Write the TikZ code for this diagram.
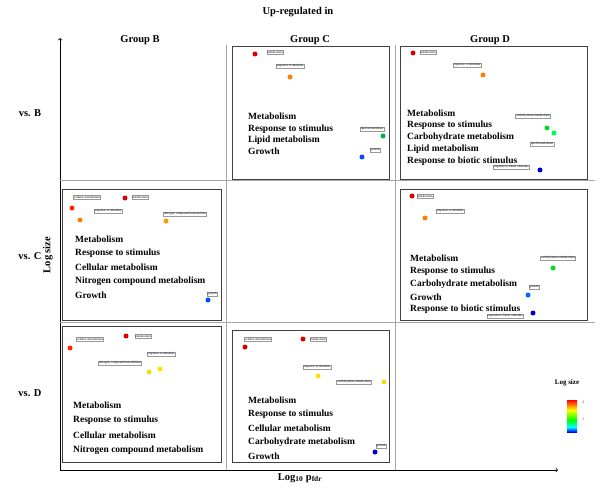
\documentclass[tikz,border=0pt]{standalone}
\usepackage{fontspec}
\setmainfont{Liberation Serif}
\begin{document}
\begin{tikzpicture}[x=1pt,y=-1pt,
  panel/.style={draw=black!75,line width=1pt},
  head/.style={font=\bfseries\fontsize{10.5}{12}\selectfont},
  lst/.style={font=\bfseries\fontsize{9.5}{11}\selectfont,anchor=west,inner sep=0pt},
  tag/.style={draw=black!40,fill=white,font=\fontsize{3.3}{3.8}\selectfont,inner sep=0.6pt},
  dot/.style={circle,inner sep=0pt,minimum size=5pt},
  sep/.style={draw=black!35,line width=0.6pt}]
\useasboundingbox (0,0) rectangle (600,492);
% title and headers
\node[head] (title) at (298,12) {Up-regulated in};
\node[head] (gb) at (140,40) {Group B};
\node[head] (gc) at (310,40) {Group C};
\node[head] (gd) at (490,40) {Group D};
\node[head] (rb) at (30,113) {vs. B};
\node[head] (rc) at (30,256) {vs. C};
\node[head] (rd) at (30,393) {vs. D};
\node[head,rotate=90] (ly) at (48,255) {Log size};
\node[head] (lx) at (300,478) {Log$_{\mathbf{10}}$ p$_{\mathbf{fdr}}$};
% axes
\coordinate (o) at (60,470);
\coordinate (ytop) at (60,38);
\coordinate (xend) at (558,470);
\draw[->,line width=0.7pt] (o) -- (ytop);
\draw[->,line width=0.7pt] (o) -- (xend);
% separators
\draw[sep] (60,180) -- (595,180);
\draw[sep] (60,322) -- (595,322);
\draw[sep] (226,45) -- (226,470);
\draw[sep] (395,45) -- (395,470);
% panels
\draw[panel] (232,47) rectangle (389,180);
\draw[panel] (400,47) rectangle (587,180);
\draw[panel] (62,190) rectangle (221,320);
\draw[panel] (400,190) rectangle (587,320);
\draw[panel] (62,326) rectangle (221,462);
\draw[panel] (232,330) rectangle (389,462);
% C vs B
\node[dot,fill=red!85!black] (a1) at (255,54) {}; \node[tag] at (275,52) {metabolism};
\node[dot,fill=orange] (a2) at (290,77) {}; \node[tag] at (290,66) {response to stimulus};
\node[dot,fill=teal!60!green] (a3) at (383,136) {}; \node[tag] at (372,129) {lipid metabolism};
\node[dot,fill=blue!70!cyan] (a4) at (362,157) {}; \node[tag] at (375,150) {growth};
\node[lst] at (248,116) {Metabolism};
\node[lst] at (248,129) {Response to stimulus};
\node[lst] at (248,140) {Lipid metabolism};
\node[lst] at (248,151) {Growth};
% D vs B
\node[dot,fill=red!85!black] at (413,53) {}; \node[tag] at (428,52) {metabolism};
\node[dot,fill=orange] at (483,75) {}; \node[tag] at (467,65) {response to stimulus};
\node[dot,fill=green!75!teal] at (547,128) {}; \node[tag] at (533,116) {carbohydrate metabolism};
\node[dot,fill=green!70!cyan] at (554,133) {}; \node[tag] at (542,144) {lipid metabolism};
\node[dot,fill=blue!80!black] at (540,170) {}; \node[tag] at (511,167) {response to biotic stimulus};
\node[lst] at (407,113) {Metabolism};
\node[lst] at (407,125) {Response to stimulus};
\node[lst] at (407,137) {Carbohydrate metabolism};
\node[lst] at (407,149) {Lipid metabolism};
\node[lst] at (407,161) {Response to biotic stimulus};
% B vs C
\node[dot,fill=red!70!orange] at (72,208) {}; \node[tag] at (87,197) {cellular metabolism};
\node[dot,fill=red!85!black] at (125,198) {}; \node[tag] at (140,197) {metabolism};
\node[dot,fill=orange] at (80,220) {}; \node[tag] at (108,211) {response to stimulus};
\node[dot,fill=orange!80!yellow] at (166,221) {}; \node[tag] at (185,214) {nitrogen compound metabolism};
\node[dot,fill=blue!70!cyan] at (208,300) {}; \node[tag] at (212,294) {growth};
\node[lst] at (75,239) {Metabolism};
\node[lst] at (75,253) {Response to stimulus};
\node[lst] at (75,267) {Cellular metabolism};
\node[lst] at (75,281) {Nitrogen compound metabolism};
\node[lst] at (75,295) {Growth};
% D vs C
\node[dot,fill=red!85!black] at (412,196) {}; \node[tag] at (425,196) {metabolism};
\node[dot,fill=orange] at (425,218) {}; \node[tag] at (450,211) {response to stimulus};
\node[dot,fill=green!75!teal] at (553,268) {}; \node[tag] at (558,258) {carbohydrate metabolism};
\node[dot,fill=blue!60!cyan] at (528,295) {}; \node[tag] at (534,287) {growth};
\node[dot,fill=blue!80!black] at (533,313) {}; \node[tag] at (505,316) {response to biotic stimulus};
\node[lst] at (410,258) {Metabolism};
\node[lst] at (410,271) {Response to stimulus};
\node[lst] at (410,284) {Carbohydrate metabolism};
\node[lst] at (410,297) {Growth};
\node[lst] at (410,309) {Response to biotic stimulus};
% B vs D
\node[dot,fill=red!70!orange] at (70,348) {}; \node[tag] at (90,339) {cellular metabolism};
\node[dot,fill=red!85!black] at (126,336) {}; \node[tag] at (143,336) {metabolism};
\node[dot,fill=yellow!85!orange] at (160,369) {}; \node[tag] at (161,354) {response to stimulus};
\node[dot,fill=yellow!90!black] at (149,372) {}; \node[tag] at (120,363) {nitrogen compound metabolism};
\node[lst] at (73,405) {Metabolism};
\node[lst] at (73,420) {Response to stimulus};
\node[lst] at (73,435) {Cellular metabolism};
\node[lst] at (73,450) {Nitrogen compound metabolism};
% C vs D
\node[dot,fill=red!85!black] at (245,347) {}; \node[tag] at (258,339) {cellular metabolism};
\node[dot,fill=red!85!black] at (303,339) {}; \node[tag] at (318,339) {metabolism};
\node[dot,fill=yellow!85!orange] at (318,376) {}; \node[tag] at (317,367) {response to stimulus};
\node[dot,fill=yellow!90!black] at (384,382) {}; \node[tag] at (354,382) {carbohydrate metabolism};
\node[dot,fill=blue!80!black] at (375,452) {}; \node[tag] at (381,446) {growth};
\node[lst] at (248,400) {Metabolism};
\node[lst] at (248,414) {Response to stimulus};
\node[lst] at (248,428) {Cellular metabolism};
\node[lst] at (248,442) {Carbohydrate metabolism};
\node[lst] at (248,456) {Growth};
% legend
\node[font=\bfseries\fontsize{7}{8}\selectfont] (lg) at (567,383) {Log size};
\shade[top color=red,bottom color=yellow] (567,400) rectangle (577,410);
\shade[top color=yellow,bottom color=green] (567,410) rectangle (577,420);
\shade[top color=green,bottom color=cyan] (567,420) rectangle (577,427);
\shade[top color=cyan,bottom color=blue] (567,427) rectangle (577,432);
\node[font=\fontsize{4}{5}\selectfont,text=black!60] at (583,402) {4};
\node[font=\fontsize{4}{5}\selectfont,text=black!60] at (583,419) {3};
\end{tikzpicture}
\end{document}
